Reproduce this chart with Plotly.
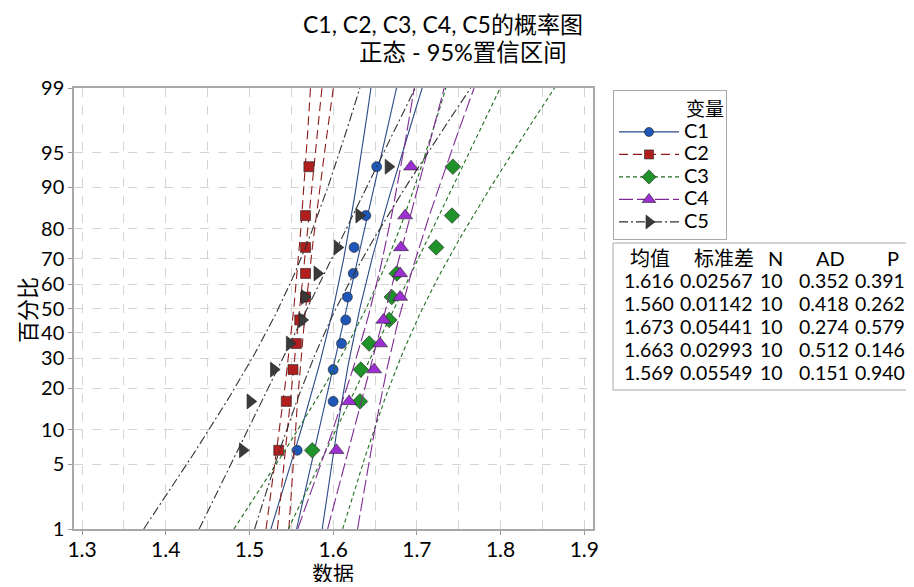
import numpy as np
import plotly.graph_objects as go
from statistics import NormalDist

# ---------------- data ----------------
series_names = ["C1", "C2", "C3", "C4", "C5"]
c1_values = [1.557, 1.600, 1.600, 1.610, 1.615, 1.617, 1.624, 1.625, 1.639, 1.652]
c2_values = [1.535, 1.544, 1.552, 1.556, 1.560, 1.567, 1.567, 1.567, 1.567, 1.571]
c3_values = [1.575, 1.632, 1.633, 1.643, 1.667, 1.670, 1.676, 1.723, 1.742, 1.743]
c4_values = [1.604, 1.619, 1.649, 1.656, 1.660, 1.680, 1.680, 1.681, 1.686, 1.693]
c5_values = [1.492, 1.501, 1.529, 1.548, 1.563, 1.566, 1.581, 1.605, 1.631, 1.666]

means = [1.616, 1.560, 1.673, 1.663, 1.569]
stdevs = [0.02567, 0.01142, 0.05441, 0.02993, 0.05549]
n_values = [10, 10, 10, 10, 10]
ad_values = [0.352, 0.418, 0.274, 0.512, 0.151]
p_values = [0.391, 0.262, 0.579, 0.146, 0.940]

pct_ticks = [1, 5, 10, 20, 30, 40, 50, 60, 70, 80, 90, 95, 99]
x_ticks = [1.3, 1.4, 1.5, 1.6, 1.7, 1.8, 1.9]
table_headers = ["均值", "标准差", "N", "AD", "P"]

title_text = "C1, C2, C3, C4, C5的概率图"
subtitle_text = "正态 - 95%置信区间"
x_title = "数据"
y_title = "百分比"
legend_title = "变量"

# ---------------- styles ----------------
line_colors = ["#2b4a86", "#8e1b1b", "#1f6e1f", "#7e2a92", "#333333"]
marker_colors = ["#1f57b8", "#b01e1e", "#20922a", "#9b2fd2", "#3a3a3a"]
dashes = ["solid", "9px,5px", "4px,3px", "14px,4px", "9px,3px,2px,3px"]
symbols = ["circle", "square", "diamond", "triangle-up", "triangle-right"]
msizes = [10, 10, 12, 13, 13]

LAT = "Lato, 'Noto Sans CJK SC', sans-serif"
CJK = "'Noto Sans CJK SC', Lato, sans-serif"

nd = NormalDist()
all_values = [c1_values, c2_values, c3_values, c4_values, c5_values]

z_lo, z_hi = nd.inv_cdf(0.01), nd.inv_cdf(0.99)
z_grid = np.linspace(z_lo, z_hi, 80)

fig = go.Figure()

for k, name in enumerate(series_names):
    vals = sorted(all_values[k])
    n = len(vals)
    z_pts = [nd.inv_cdf((i + 1 - 0.3) / (n + 0.4)) for i in range(n)]
    mu, sd, nn = means[k], stdevs[k], n_values[k]
    fit = mu + sd * z_grid
    half = 1.96 * sd * np.sqrt((1 + z_grid ** 2 / 2) / nn)
    for xs in (fit - half, fit, fit + half):
        fig.add_trace(go.Scatter(
            x=xs, y=z_grid, mode="lines", showlegend=False, hoverinfo="skip",
            line=dict(color=line_colors[k], width=1.1, dash=dashes[k]),
            legendgroup=name))
    fig.add_trace(go.Scatter(
        x=vals, y=z_pts, mode="markers", showlegend=False, legendgroup=name,
        marker=dict(symbol=symbols[k], size=msizes[k], color=marker_colors[k],
                    line=dict(color="#202020", width=0.6))))
    # legend entry (line + marker)
    fig.add_trace(go.Scatter(
        x=[None], y=[None], mode="lines+markers",
        name=f"<span style='font-size:20px'>{name}</span>&nbsp;&nbsp;&nbsp;",
        legendgroup=name,
        line=dict(color=line_colors[k], width=1.3, dash=dashes[k]),
        marker=dict(symbol=symbols[k], size=msizes[k] - 1, color=marker_colors[k],
                    line=dict(color="#202020", width=0.6))))

# ---------------- layout ----------------
# the page body has an 8px margin, so the figure is 8px smaller than the window
OFF = 8
W, H = 914 - OFF, 587 - OFF
L, T = 74 - OFF, 88 - OFF
R = W - (593 - OFF)
B = H - (529 - OFF)
pw, ph = W - L - R, H - T - B

def px(x):   # screen pixel x -> paper
    return (x - OFF - L) / pw

def py(y):   # screen pixel y -> paper
    return (H - B - (y - OFF)) / ph

grid_col = "#d4d4d4"
fig.update_layout(
    width=W, height=H,
    margin=dict(l=L, r=R, t=T, b=B, autoexpand=False),
    paper_bgcolor="white", plot_bgcolor="white",
    font=dict(family=LAT, size=21, color="black"),
    showlegend=True,
    legend=dict(
        x=px(613), y=py(90), xanchor="left", yanchor="top",
        bordercolor="#a8a8a8", borderwidth=1, bgcolor="white",
        font=dict(family=LAT, size=15, color="black"),
        title=dict(text=legend_title, side="top right",
                   font=dict(family=CJK, size=19)),
        itemwidth=60, tracegroupgap=0,
    ),
    xaxis=dict(
        range=[1.2904, 1.9104], tickvals=x_ticks,
        ticktext=[f"{v:.1f}" for v in x_ticks],
        showgrid=True, gridcolor=grid_col, griddash="dash", gridwidth=1,
        minor=dict(dtick=0.05, tick0=1.3, showgrid=True, gridcolor=grid_col,
                   griddash="dash", gridwidth=1),
        ticks="outside", ticklen=4, tickcolor="#999999",
        ticklabelstandoff=-3,
        showline=True, linecolor="#a8a8a8", linewidth=1.5, mirror=True,
        zeroline=False, automargin=False,
        tickfont=dict(family=LAT, size=21),
    ),
    yaxis=dict(
        range=[z_lo, z_hi],
        tickvals=[nd.inv_cdf(p / 100) for p in pct_ticks],
        ticktext=[str(p) for p in pct_ticks],
        showgrid=True, gridcolor=grid_col, griddash="dash", gridwidth=1,
        ticks="outside", ticklen=4, tickcolor="#999999",
        showline=True, linecolor="#a8a8a8", linewidth=1.5, mirror=True,
        zeroline=False, automargin=False,
        tickfont=dict(family=LAT, size=20),
    ),
)

annotations = [
    dict(text=title_text, x=px(443), y=py(24), xref="paper", yref="paper",
         showarrow=False, xanchor="center", yanchor="middle",
         font=dict(family=LAT, size=23, color="black")),
    dict(text=subtitle_text, x=px(463), y=py(52), xref="paper", yref="paper",
         showarrow=False, xanchor="center", yanchor="middle",
         font=dict(family=LAT, size=23.5, color="black")),
    dict(text=x_title, x=px(333), y=py(572), xref="paper", yref="paper",
         showarrow=False, xanchor="center", yanchor="middle", height=20,
         font=dict(family=CJK, size=21, color="black")),
    dict(text=y_title, x=px(26), y=py(310), xref="paper", yref="paper",
         showarrow=False, xanchor="center", yanchor="middle", textangle=-90,
         font=dict(family=CJK, size=22, color="black")),
]

header_x = [650, 724, 775, 830, 893]
col_x = [649, 716, 771, 824, 880]
header_y = 258
row_y = [280, 303, 326, 349, 372]
for j, h in enumerate(table_headers):
    annotations.append(dict(text=h, x=px(header_x[j]), y=py(header_y),
                            xref="paper", yref="paper", showarrow=False,
                            xanchor="center", yanchor="middle",
                            font=dict(family=LAT, size=20, color="black")))
for i in range(len(series_names)):
    cells = [f"{means[i]:.3f}", f"{stdevs[i]:.5f}", f"{n_values[i]}",
             f"{ad_values[i]:.3f}", f"{p_values[i]:.3f}"]
    for j, c in enumerate(cells):
        annotations.append(dict(text=c, x=px(col_x[j]), y=py(row_y[i]),
                                xref="paper", yref="paper", showarrow=False,
                                xanchor="center", yanchor="middle",
                                font=dict(family=LAT, size=19.5, color="black")))

fig.update_layout(annotations=annotations)
fig.add_shape(type="rect", xref="paper", yref="paper",
              x0=px(613), x1=px(912), y0=py(390), y1=py(243),
              line=dict(color="#a8a8a8", width=1), fillcolor="rgba(0,0,0,0)")

fig.write_html("out.html")
